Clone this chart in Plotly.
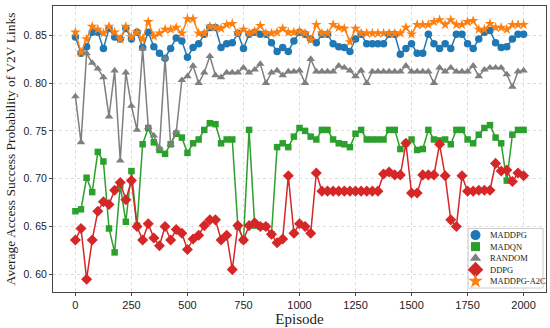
import plotly.graph_objects as go

episodes = list(range(0, 2001, 25))

maddpg = [0.848, 0.831, 0.838, 0.853, 0.853, 0.836, 0.857, 0.848, 0.846, 0.857,
          0.846, 0.853, 0.837, 0.853, 0.838, 0.831, 0.826, 0.836, 0.847, 0.844,
          0.827, 0.837, 0.841, 0.851, 0.858, 0.858, 0.837, 0.841, 0.842, 0.852,
          0.836, 0.851, 0.853, 0.851, 0.851, 0.842, 0.833, 0.837, 0.833, 0.844,
          0.853, 0.851, 0.846, 0.842, 0.851, 0.851, 0.841, 0.838, 0.837, 0.833,
          0.846, 0.851, 0.841, 0.841, 0.841, 0.841, 0.851, 0.851, 0.830, 0.836,
          0.841, 0.831, 0.831, 0.851, 0.841, 0.836, 0.841, 0.836, 0.851, 0.851,
          0.841, 0.836, 0.846, 0.853, 0.855, 0.842, 0.837, 0.838, 0.846, 0.851,
          0.851]

madqn = [0.666, 0.668, 0.701, 0.686, 0.728, 0.718, 0.648, 0.623, 0.693, 0.655,
         0.708, 0.651, 0.736, 0.753, 0.738, 0.730, 0.726, 0.736, 0.747, 0.743,
         0.727, 0.737, 0.741, 0.751, 0.758, 0.757, 0.737, 0.741, 0.741, 0.650,
         0.636, 0.751, 0.651, 0.650, 0.650, 0.642, 0.733, 0.737, 0.733, 0.744,
         0.753, 0.750, 0.744, 0.741, 0.751, 0.751, 0.741, 0.737, 0.736, 0.733,
         0.747, 0.751, 0.741, 0.741, 0.741, 0.741, 0.751, 0.751, 0.731, 0.737,
         0.741, 0.730, 0.731, 0.751, 0.741, 0.740, 0.741, 0.736, 0.751, 0.751,
         0.741, 0.737, 0.746, 0.753, 0.756, 0.743, 0.737, 0.698, 0.746, 0.751,
         0.751]

random_ = [0.786, 0.738, 0.831, 0.821, 0.815, 0.806, 0.765, 0.813, 0.719, 0.811,
           0.776, 0.751, 0.836, 0.754, 0.745, 0.732, 0.826, 0.736, 0.749, 0.803,
           0.807, 0.818, 0.800, 0.811, 0.828, 0.808, 0.806, 0.811, 0.811, 0.811,
           0.816, 0.811, 0.814, 0.820, 0.800, 0.811, 0.813, 0.808, 0.812, 0.812,
           0.813, 0.800, 0.825, 0.812, 0.812, 0.812, 0.812, 0.818, 0.816, 0.813,
           0.807, 0.813, 0.800, 0.812, 0.812, 0.812, 0.812, 0.812, 0.812, 0.818,
           0.812, 0.812, 0.812, 0.812, 0.800, 0.816, 0.812, 0.816, 0.812, 0.812,
           0.812, 0.818, 0.807, 0.814, 0.816, 0.816, 0.816, 0.809, 0.796, 0.812,
           0.813]

ddpg = [0.636, 0.648, 0.595, 0.636, 0.666, 0.676, 0.673, 0.688, 0.696, 0.678,
        0.698, 0.650, 0.636, 0.653, 0.638, 0.630, 0.650, 0.636, 0.647, 0.643,
        0.626, 0.637, 0.641, 0.651, 0.657, 0.657, 0.636, 0.641, 0.605, 0.651,
        0.636, 0.651, 0.654, 0.650, 0.650, 0.642, 0.633, 0.637, 0.703, 0.643,
        0.653, 0.650, 0.643, 0.706, 0.687, 0.687, 0.687, 0.687, 0.687, 0.687,
        0.687, 0.687, 0.687, 0.687, 0.687, 0.705, 0.707, 0.704, 0.704, 0.737,
        0.685, 0.685, 0.704, 0.704, 0.704, 0.736, 0.703, 0.657, 0.650, 0.703,
        0.687, 0.687, 0.688, 0.688, 0.688, 0.716, 0.708, 0.709, 0.697, 0.706,
        0.703]

maddpg_a2c = [0.853, 0.832, 0.846, 0.859, 0.856, 0.852, 0.859, 0.853, 0.846, 0.859,
              0.848, 0.853, 0.846, 0.864, 0.849, 0.852, 0.856, 0.856, 0.858, 0.852,
              0.867, 0.867, 0.852, 0.852, 0.859, 0.858, 0.857, 0.861, 0.862, 0.852,
              0.856, 0.852, 0.854, 0.860, 0.852, 0.852, 0.853, 0.857, 0.853, 0.853,
              0.854, 0.852, 0.845, 0.861, 0.852, 0.852, 0.861, 0.858, 0.857, 0.843,
              0.857, 0.852, 0.852, 0.852, 0.852, 0.852, 0.852, 0.852, 0.852, 0.858,
              0.851, 0.861, 0.861, 0.861, 0.864, 0.866, 0.861, 0.866, 0.861, 0.861,
              0.864, 0.865, 0.856, 0.856, 0.862, 0.858, 0.858, 0.856, 0.861, 0.861,
              0.861]

series_names = ["MADDPG", "MADQN", "RANDOM", "DDPG", "MADDPG-A2C"]
y_ticks = [0.60, 0.65, 0.70, 0.75, 0.80, 0.85]
y_tick_labels = ["0. 60", "0. 65", "0. 70", "0. 75", "0. 80", "0. 85"]
x_ticks = [0, 250, 500, 750, 1000, 1250, 1500, 1750, 2000]

styles = [
    (maddpg, "#1f77b4", "circle", 7.5),
    (madqn, "#2ca02c", "square", 6.5),
    (random_, "#7f7f7f", "triangle-up", 7.5),
    (ddpg, "#d62728", "diamond", 8.5),
    (maddpg_a2c, "#ff7f0e", "star", 8),
]

fig = go.Figure()
for name, (vals, color, sym, size) in zip(series_names, styles):
    fig.add_trace(go.Scatter(
        x=episodes, y=vals, mode="lines+markers", name=name, showlegend=False,
        line=dict(color=color, width=1.5),
        marker=dict(symbol=sym, size=size, color=color, line=dict(width=0)),
    ))

# compact matplotlib-style legend on an overlay axis spanning the plot area
leg_x0, leg_x1, leg_y0, leg_y1 = 0.842, 0.994, 0.014, 0.222
sym_x, text_x = 0.857, 0.882
row_top, row_step = 0.199, 0.0403
leg_rows = [row_top - k * row_step for k in range(len(series_names))]
leg_sizes = [10, 9, 10, 12, 11]

fig.add_trace(go.Scatter(
    x=[leg_x0, leg_x1, leg_x1, leg_x0, leg_x0],
    y=[leg_y0, leg_y0, leg_y1, leg_y1, leg_y0],
    xaxis="x2", yaxis="y2", mode="lines", fill="toself",
    fillcolor="rgba(255,255,255,0.85)", line=dict(color="#cccccc", width=1),
    showlegend=False, hoverinfo="skip",
))
for k, (name, (vals, color, sym, size)) in enumerate(zip(series_names, styles)):
    fig.add_trace(go.Scatter(
        x=[sym_x], y=[leg_rows[k]], xaxis="x2", yaxis="y2", mode="markers",
        showlegend=False, hoverinfo="skip",
        marker=dict(symbol=sym, size=leg_sizes[k], color=color, line=dict(width=0)),
    ))
    fig.add_annotation(
        x=text_x, y=leg_rows[k], xref="paper", yref="paper", text=name,
        showarrow=False, xanchor="left", yanchor="middle",
        font=dict(family="Liberation Serif", size=8.5, color="#222"),
    )

fig.update_layout(
    width=550, height=328,
    margin=dict(l=53, r=4, t=6, b=36),
    paper_bgcolor="white", plot_bgcolor="white",
    showlegend=False,
    font=dict(family="Liberation Serif", color="#222"),
    xaxis=dict(
        range=[-100, 2100], tickvals=x_ticks,
        showline=True, mirror=True, linecolor="#444", linewidth=1,
        ticks="outside", ticklen=3, tickcolor="#444",
        showgrid=True, gridcolor="#dcdcdc", griddash="dot", gridwidth=1,
        zeroline=False,
        tickfont=dict(family="Liberation Sans", size=11, color="#222"),
        title=dict(text="Episode", font=dict(family="Liberation Serif", size=15, color="#222"), standoff=0),
    ),
    yaxis=dict(
        range=[0.5816, 0.8805], tickvals=y_ticks, ticktext=y_tick_labels,
        showline=True, mirror=True, linecolor="#444", linewidth=1,
        ticks="outside", ticklen=3, tickcolor="#444",
        showgrid=True, gridcolor="#dcdcdc", griddash="dot", gridwidth=1,
        zeroline=False,
        tickfont=dict(family="Liberation Sans", size=10.5, color="#222"),
        title=dict(text="Average Access Success Probability of V2V Links",
                   font=dict(family="Liberation Serif", size=13.5, color="#222"), standoff=4),
    ),
    xaxis2=dict(range=[0, 1], overlaying="x", visible=False, fixedrange=True),
    yaxis2=dict(range=[0, 1], overlaying="y", visible=False, fixedrange=True),
)

fig.write_html("out.html", config={"displayModeBar": False},
               post_script="document.body.style.margin='0px';document.body.style.padding='0px';")
